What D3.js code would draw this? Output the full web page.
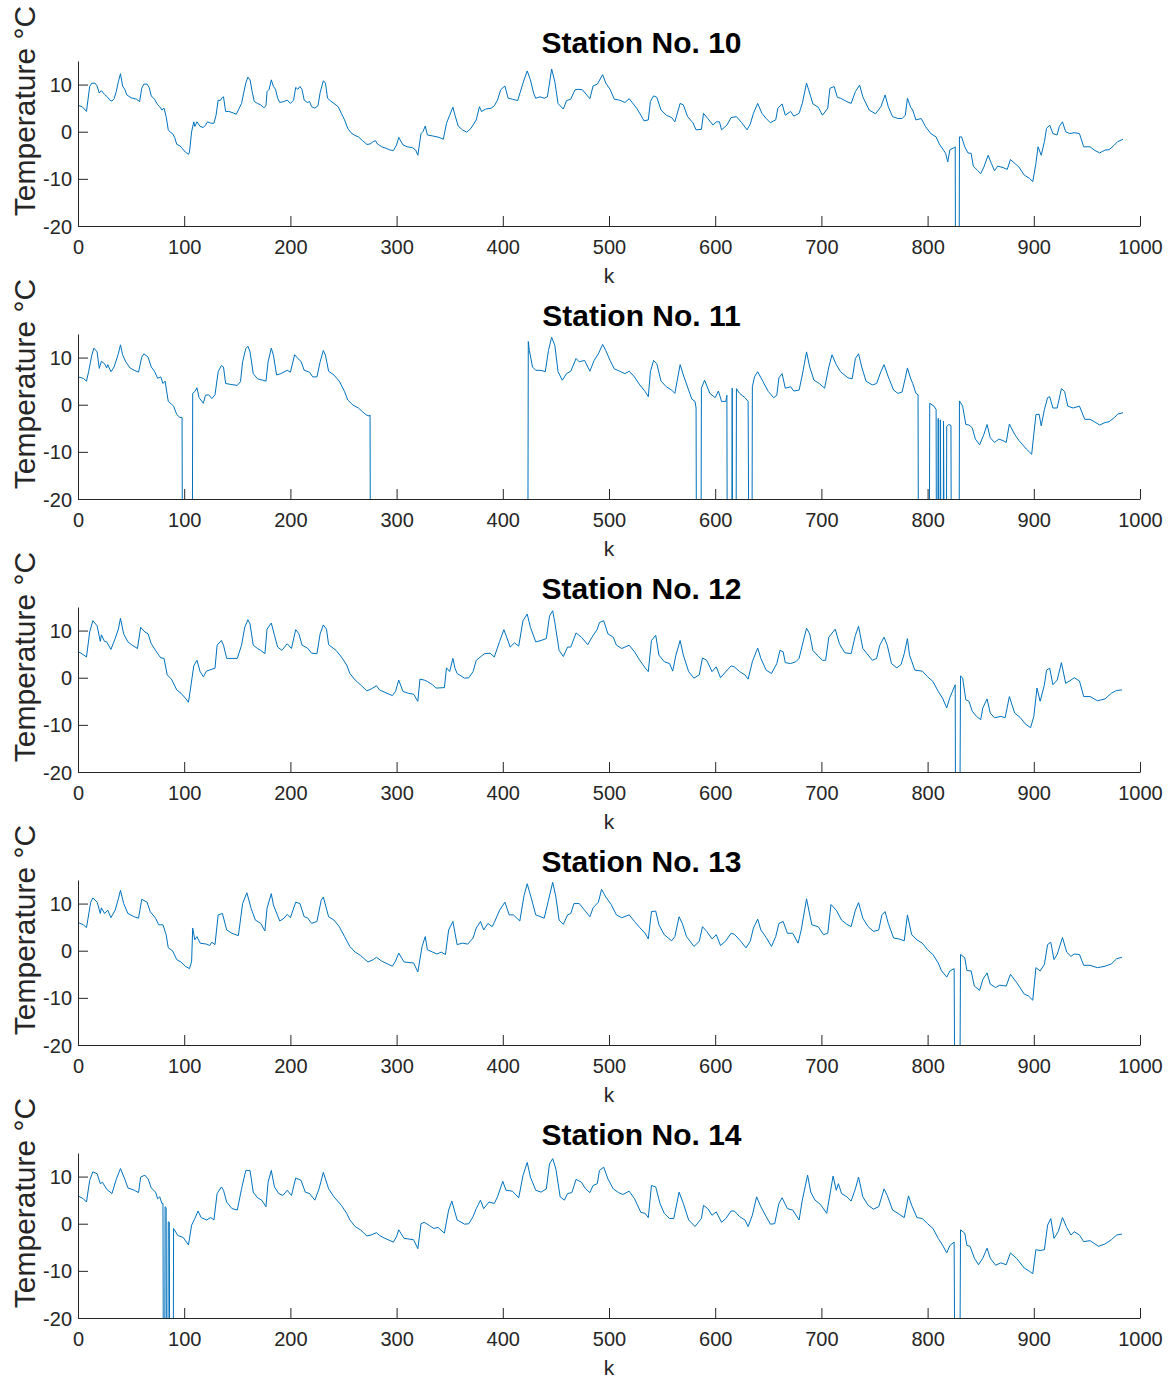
<!DOCTYPE html>
<html>
<head>
<meta charset="utf-8">
<script src="https://cdn.jsdelivr.net/npm/d3@7"></script>
<style>
  body { margin: 0; background: #fff; }
  svg { display: block; }
</style>
</head>
<body>
<svg id="chart" width="1171" height="1378"></svg>
<script>
// Axis ticks shared by all panels
const xTicks = [0, 100, 200, 300, 400, 500, 600, 700, 800, 900, 1000];
const yTicks = [-20, -10, 0, 10];
const stationNames = ["Station No. 10", "Station No. 11", "Station No. 12", "Station No. 13", "Station No. 14"];

// Temperature readings [k, °C]; -100 marks a sensor dropout
const station10 = [[0,5.6],[4,5.3],[8,4.3],[11,9.6],[13,10.3],[16,10.3],[18,9.7],[20,8.2],[22,8.7],[25,7.9],[28,7.3],[30,6.7],[32,6.5],[34,7.0],[36,8.5],[38,10.6],[40,12.3],[42,9.7],[44,9.0],[46,7.8],[50,7.2],[55,6.9],[58,6.4],[60,9.2],[62,10.1],[65,10.1],[67,9.4],[69,7.6],[72,6.9],[75,5.7],[77,5.3],[79,4.6],[81,5.0],[83,3.2],[85,0.4],[87,-0.1],[89,-0.4],[91,-1.2],[93,-2.7],[96,-3.0],[98,-3.5],[101,-4.3],[104,-4.8],[105,-4.3],[107,0],[109,2.1],[110,1.1],[112,2.1],[115,1.1],[118,0.9],[120,1.4],[122,2.1],[125,1.8],[128,1.8],[130,3.5],[132,6.7],[134,6.6],[136,7.3],[137,7.4],[139,4.3],[142,4.3],[146,4.0],[149,3.7],[151,4.6],[154,6.0],[156,8.2],[158,10.3],[160,11.6],[162,11.0],[164,8.5],[166,6.4],[169,6.0],[172,5.7],[175,5.1],[177,5.5],[178,8.5],[180,9.0],[182,11.0],[184,9.6],[186,9.0],[188,7.1],[190,6.2],[194,6.4],[197,6.7],[200,6.0],[203,6.7],[205,9.4],[207,9.0],[209,9.6],[211,8.9],[213,6.7],[216,6.2],[218,6.4],[220,5.3],[223,5.0],[226,5.5],[228,8.3],[231,10.8],[233,10.3],[235,7.1],[238,6.5],[241,6.0],[245,5.3],[248,3.9],[251,2.5],[254,0.7],[257,-0.2],[260,-0.7],[264,-1.1],[268,-1.9],[272,-2.7],[275,-2.6],[278,-2.1],[280,-1.9],[282,-2.6],[286,-3.2],[290,-3.5],[294,-3.9],[297,-4.0],[300,-2.8],[302,-1.2],[306,-2.8],[310,-3.2],[315,-3.4],[318,-3.9],[320,-5.0],[323,-0.4],[325,0.1],[327,1.2],[329,-0.7],[334,-0.9],[340,-1.2],[344,-1.6],[347,1.8],[350,3.5],[353,5.2],[355,3.5],[358,1.2],[362,0.4],[366,-0.1],[370,0.7],[375,2.5],[378,5.3],[380,4.3],[384,4.8],[389,5.0],[392,5.5],[395,6.7],[398,8.9],[402,9.7],[405,7.1],[409,6.9],[414,6.6],[419,10.3],[423,12.9],[426,11.0],[429,8.2],[431,7.1],[435,7.4],[439,7.1],[442,7.4],[446,13.3],[449,10.6],[452,6.0],[457,4.8],[460,6.6],[464,6.9],[468,8.9],[471,9.0],[475,8.9],[479,7.8],[482,7.0],[485,9.7],[489,10.1],[494,12.1],[497,10.3],[501,9.0],[505,6.9],[510,6.7],[515,6.2],[519,7.0],[526,5.0],[530,3.5],[533,2.3],[537,2.5],[539,6.4],[542,7.6],[545,7.3],[549,4.6],[554,3.5],[559,3.0],[562,2.1],[567,6.0],[570,5.7],[574,3.2],[579,1.9],[582,0.4],[587,0.5],[589,3.9],[593,2.8],[598,1.4],[601,2.1],[604,2.1],[606,0.4],[611,1.4],[615,3.0],[620,3.2],[625,1.9],[630,0.4],[633,1.6],[636,3.9],[640,6.0],[644,3.9],[648,2.8],[652,1.9],[655,2.3],[657,2.5],[659,5.0],[663,5.9],[666,3.5],[671,4.3],[674,3.3],[679,3.9],[682,6.0],[686,10.3],[688,8.9],[692,5.9],[697,5.2],[701,3.5],[706,5.0],[708,9.2],[712,9.6],[715,7.3],[718,7.1],[723,6.5],[728,6.0],[732,8.5],[736,9.9],[739,7.4],[745,4.6],[751,3.8],[756,5.3],[760,7.8],[763,5.3],[767,3.2],[772,2.8],[776,2.8],[779,3.5],[781,7.1],[784,5.2],[786,4.6],[789,2.5],[794,2.8],[798,1.1],[803,-0.4],[808,-1.1],[811,-2.6],[815,-3.9],[817,-4.6],[819,-6.4],[821,-3.8],[824,-3.5],[826,-3.2],[827,-100],[829,-100],[830,-1.1],[832,-1.1],[835,-3.2],[838,-4.5],[841,-4.6],[843,-7.3],[847,-8.2],[850,-8.9],[853,-7.5],[857,-5.0],[860,-6.7],[863,-8.3],[866,-7.3],[871,-7.6],[875,-8.0],[878,-5.9],[882,-6.7],[886,-7.5],[891,-9.2],[896,-9.9],[899,-10.6],[902,-6.7],[904,-3.2],[907,-5.0],[910,-2.1],[912,0.7],[915,1.4],[918,-0.4],[922,-0.7],[924,1.1],[927,2.1],[930,0],[934,-0.4],[938,-0.2],[943,-0.4],[947,-3.2],[953,-3.2],[957,-3.9],[962,-4.5],[967,-3.9],[971,-3.8],[976,-2.8],[979,-2.1],[984,-1.6]];

const station11 = [[0,5.9],[5,5.6],[8,5.0],[10,7.0],[13,10.5],[15,12.0],[18,11.2],[20,7.7],[22,9.2],[25,8.7],[27,7.8],[28,8.5],[31,7.0],[34,8.0],[38,10.8],[40,12.7],[42,10.6],[45,9.1],[49,7.8],[53,7.3],[57,6.9],[60,10.1],[62,10.8],[66,10.1],[69,8.0],[72,7.1],[75,5.6],[78,5.9],[80,4.5],[82,5.0],[85,0.7],[88,0.1],[90,-0.3],[93,-2.1],[96,-2.7],[98,-2.7],[99,-100],[107,-100],[108,2.4],[110,2.8],[112,3.6],[114,1.5],[118,0.3],[120,2.0],[123,2.1],[126,1.3],[129,2.1],[132,7.0],[135,8.3],[137,8.0],[139,4.5],[144,4.3],[150,4.1],[153,4.9],[155,9.1],[158,11.9],[160,12.4],[162,11.2],[165,6.6],[169,5.5],[174,5.2],[177,5.0],[179,9.1],[182,12.0],[184,10.5],[187,6.3],[191,6.6],[197,7.3],[200,6.9],[204,10.6],[207,9.8],[210,9.2],[213,7.3],[218,6.9],[221,5.9],[225,5.9],[228,9.1],[231,11.5],[233,10.5],[236,7.1],[241,6.3],[246,5.0],[251,2.8],[254,1.0],[259,-0.1],[264,-0.7],[268,-1.5],[271,-2.1],[274,-2.4],[275,-2.2],[276,-100],[423,-100],[424,13.4],[425,11.5],[428,8.0],[431,7.3],[436,7.3],[440,7.0],[443,11.5],[446,14.3],[449,12.6],[452,7.0],[456,5.2],[460,6.6],[464,7.1],[469,9.8],[472,9.1],[477,9.4],[482,7.1],[486,9.4],[490,10.8],[494,12.8],[497,11.5],[501,9.4],[505,7.6],[510,7.1],[515,6.6],[519,7.1],[524,5.9],[529,4.2],[534,2.8],[537,1.7],[539,7.0],[542,9.4],[545,8.7],[549,5.0],[554,3.8],[559,3.1],[562,2.4],[567,8.5],[570,6.3],[575,3.1],[578,1.2],[581,0.7],[582,-0.7],[583,-100],[586,-100],[587,3.5],[590,5.2],[595,2.4],[600,1.5],[603,2.9],[606,0.7],[610,0.7],[611,2.0],[612,-100],[615,-100],[616,3.5],[617,-100],[619,-100],[620,3.4],[623,2.4],[628,1.5],[631,0.7],[633,-100],[634,-100],[635,3.8],[637,5.9],[640,7.0],[645,4.9],[650,2.8],[655,1.5],[658,2.0],[660,5.7],[663,6.6],[666,3.5],[671,3.8],[674,2.9],[679,3.1],[682,6.3],[686,11.2],[689,8.0],[693,5.2],[698,4.5],[703,3.5],[707,8.0],[710,10.6],[714,8.5],[718,7.0],[725,5.7],[729,5.5],[732,9.8],[735,10.8],[738,8.0],[742,5.0],[748,4.2],[752,4.5],[756,7.0],[759,8.5],[763,5.9],[768,3.1],[772,2.4],[776,2.7],[779,5.7],[781,7.8],[784,5.6],[786,4.5],[789,2.4],[791,2.1],[792,-100],[801,-100],[802,0.3],[806,-0.3],[808,-1.0],[809,-100],[810,-2.9],[811,-100],[812,-3.2],[814,-100],[815,-3.5],[817,-100],[818,-4.6],[820,-4.2],[822,-4.4],[823,-100],[829,-100],[830,0.8],[833,-0.3],[836,-4.2],[839,-4.3],[842,-4.9],[845,-7.3],[849,-8.5],[853,-6.3],[856,-4.2],[859,-7.0],[863,-8.0],[867,-7.3],[871,-7.6],[874,-8.0],[877,-4.1],[882,-6.3],[886,-7.6],[893,-9.4],[898,-10.5],[902,-2.1],[905,-2.0],[907,-4.5],[910,-1.0],[913,1.5],[915,1.7],[918,-0.7],[922,-0.7],[926,3.4],[929,2.8],[932,-0.3],[937,-0.7],[943,-0.3],[948,-3.1],[953,-3.1],[957,-3.6],[962,-4.3],[967,-3.8],[971,-3.6],[976,-2.7],[979,-2.0],[984,-1.7]];

const station12 = [[0,5.5],[3,5.2],[8,4.4],[11,9.7],[14,12.1],[18,11.0],[21,7.7],[22,9.1],[25,7.7],[27,7.6],[31,6.0],[35,8.3],[38,10.3],[40,12.6],[43,9.3],[47,7.6],[51,6.9],[56,6.2],[59,10.7],[63,9.7],[66,9.3],[69,7.2],[73,5.8],[76,4.8],[78,4.2],[81,4.1],[84,0.6],[88,-0.3],[93,-2.6],[97,-3.3],[101,-4.3],[104,-5.2],[106,-2.2],[109,2.5],[112,3.7],[115,1.3],[118,0.2],[121,1.4],[126,1.8],[129,2.0],[131,6.9],[135,7.9],[137,6.9],[140,4.1],[145,4.1],[150,4.1],[154,6.9],[157,10.7],[160,12.3],[162,11.4],[165,6.9],[169,6.2],[172,5.8],[176,5.1],[178,10.3],[182,11.6],[185,9.0],[188,6.5],[192,5.8],[197,7.2],[201,6.2],[205,10.2],[208,9.3],[211,6.9],[216,6.3],[220,5.2],[225,5.1],[228,9.3],[231,11.2],[234,10.3],[236,7.0],[243,5.8],[248,4.4],[253,2.7],[256,0.9],[261,-0.5],[266,-1.5],[272,-2.8],[276,-2.4],[281,-1.7],[284,-2.6],[289,-3.1],[296,-3.8],[299,-2.9],[302,-0.5],[306,-2.9],[311,-3.3],[316,-3.5],[320,-5.0],[322,-0.3],[326,-0.5],[329,-0.8],[334,-1.5],[337,-2.2],[345,-2.1],[347,2.1],[350,1.3],[353,4.1],[355,2.0],[357,0.9],[364,-0.1],[368,0],[372,1.3],[375,3.7],[380,4.6],[383,5.1],[388,5.2],[392,4.4],[397,7.7],[401,10.2],[403,9.0],[407,6.5],[411,7.4],[415,6.7],[419,12.1],[423,13.5],[426,10.7],[431,7.6],[436,7.9],[441,8.3],[444,13.1],[447,14.2],[449,11.7],[453,5.8],[457,4.5],[461,6.5],[464,6.5],[469,9.5],[474,8.6],[480,7.0],[484,8.6],[489,10.3],[491,11.7],[495,12.1],[499,9.3],[504,8.6],[507,6.9],[512,6.2],[519,6.9],[524,5.5],[529,3.7],[534,2.1],[537,1.3],[540,7.9],[544,9.0],[547,4.8],[552,3.4],[557,3.0],[560,1.4],[563,4.8],[567,7.9],[570,4.8],[575,1.3],[580,-0.1],[585,0.6],[588,4.2],[592,3.7],[597,1.3],[601,2.3],[605,0],[610,1.3],[615,2.5],[618,2.3],[623,1.3],[628,0.6],[631,-0.3],[635,3.4],[640,6.3],[643,4.1],[648,1.6],[653,0.9],[658,3.0],[661,5.8],[664,5.5],[666,3.2],[671,3.0],[676,3.4],[679,4.1],[682,6.9],[686,10.5],[689,9.3],[692,5.8],[696,4.8],[701,3.7],[704,3.7],[707,8.6],[713,10.3],[717,7.2],[722,5.3],[728,5.1],[732,9.0],[735,10.9],[739,6.2],[744,4.8],[748,3.7],[752,4.1],[755,6.9],[759,8.6],[762,6.9],[766,3.0],[771,2.1],[775,2.8],[778,5.1],[781,8.3],[783,4.8],[788,1.6],[795,1.4],[800,0.2],[805,-0.8],[810,-2.9],[814,-4.3],[818,-6.4],[821,-4.2],[826,-1.5],[827,-100],[829,-100],[831,0.4],[833,-0.1],[836,-4.7],[839,-5.0],[842,-7.1],[846,-8.2],[850,-8.9],[852,-6.4],[856,-4.5],[859,-7.5],[863,-8.5],[869,-8.2],[873,-8.5],[877,-4.0],[882,-7.5],[887,-8.4],[892,-9.8],[897,-10.6],[900,-8.2],[903,-2.2],[906,-5.0],[910,-1.5],[912,1.6],[915,2.0],[918,-1.5],[922,-0.5],[926,3.2],[930,-1.2],[935,-0.5],[938,0],[943,-0.7],[947,-4.0],[953,-4.0],[960,-4.9],[967,-4.5],[973,-3.3],[978,-2.7],[983,-2.6]];

const station13 = [[0,6.0],[5,5.5],[8,4.9],[12,10.3],[14,11.2],[18,10.3],[21,7.9],[22,9.1],[25,7.9],[28,8.6],[31,7.0],[35,8.6],[38,11.0],[40,12.8],[43,10.0],[47,7.9],[53,7.2],[57,6.9],[60,10.9],[65,10.3],[68,8.3],[73,6.9],[76,5.5],[80,5.5],[83,3.4],[85,0.6],[89,0],[93,-1.9],[97,-2.4],[101,-3.3],[105,-3.8],[107,-2.2],[108,4.8],[110,2.3],[112,3.0],[115,1.6],[121,1.4],[124,1.1],[126,1.8],[129,1.3],[132,7.6],[136,7.9],[140,4.4],[145,3.7],[151,3.2],[155,10.0],[159,12.3],[163,9.0],[167,6.5],[172,5.8],[176,4.2],[178,9.0],[182,12.1],[184,9.7],[190,6.3],[194,6.9],[197,7.7],[200,7.0],[205,10.3],[209,10.0],[213,7.2],[216,7.0],[220,5.8],[225,6.2],[229,10.7],[231,11.4],[236,7.2],[241,6.5],[246,5.1],[251,3.0],[256,0.9],[261,-0.3],[266,-1.0],[273,-2.4],[278,-1.9],[281,-1.4],[286,-2.2],[296,-3.3],[299,-2.2],[302,-0.5],[307,-2.4],[316,-2.6],[320,-4.5],[324,0.9],[327,3.0],[329,0.2],[334,-0.3],[338,-0.7],[342,-0.3],[346,-0.8],[349,4.4],[353,6.2],[357,1.3],[362,1.6],[367,1.4],[372,2.7],[375,4.8],[379,6.2],[382,4.4],[386,5.8],[390,5.1],[392,6.0],[397,8.6],[402,10.3],[406,7.6],[410,7.6],[416,6.3],[420,11.7],[423,14.2],[427,11.0],[431,7.6],[439,6.9],[443,10.7],[447,14.5],[450,11.4],[453,6.5],[457,5.6],[461,7.6],[464,7.9],[467,10.0],[472,10.0],[477,8.6],[482,7.2],[485,9.1],[490,10.3],[493,13.0],[497,11.4],[502,9.8],[507,7.6],[512,7.0],[519,7.6],[524,6.2],[529,4.9],[534,3.7],[537,2.5],[540,8.3],[544,8.4],[547,5.5],[552,3.4],[559,2.1],[562,3.0],[566,7.2],[569,5.8],[573,3.0],[580,0.9],[585,2.0],[588,5.1],[592,4.1],[597,2.5],[601,3.4],[605,1.1],[610,2.1],[615,3.7],[618,3.5],[623,2.3],[629,0.6],[633,2.0],[636,4.8],[640,6.7],[643,4.4],[648,2.8],[653,0.9],[657,3.0],[660,5.8],[664,6.2],[668,3.7],[673,3.7],[678,1.6],[681,4.4],[686,11.0],[691,5.5],[697,5.1],[702,3.4],[706,3.7],[709,9.8],[714,8.6],[719,6.5],[724,5.6],[728,5.1],[732,8.6],[735,10.2],[739,6.9],[744,5.1],[749,4.1],[754,4.4],[757,7.6],[760,8.3],[763,5.8],[768,2.7],[773,2.5],[778,2.1],[781,7.6],[785,3.4],[790,2.3],[795,1.6],[800,0.2],[805,-0.8],[810,-2.6],[813,-4.2],[818,-5.6],[821,-4.3],[825,-3.8],[827,-100],[829,-100],[831,-0.8],[835,-1.5],[837,-4.2],[841,-4.3],[844,-7.5],[849,-8.4],[852,-6.1],[856,-4.7],[859,-7.1],[864,-7.8],[868,-7.3],[874,-7.5],[878,-5.0],[884,-6.8],[891,-9.2],[895,-9.6],[899,-10.5],[902,-3.6],[906,-4.3],[910,-2.9],[913,1.3],[916,1.8],[919,-1.9],[922,-0.8],[927,2.8],[931,-0.3],[935,-1.2],[938,-0.7],[943,-0.8],[947,-3.1],[953,-3.1],[960,-3.6],[967,-3.3],[973,-2.8],[978,-1.7],[983,-1.4]];

const station14 = [[0,5.9],[5,5.3],[8,4.6],[11,9.2],[14,11.0],[18,10.6],[21,8.5],[23,8.8],[27,7.3],[32,6.4],[36,9.4],[40,11.7],[44,9.5],[47,7.6],[53,7.1],[57,6.6],[59,9.9],[63,10.3],[66,9.5],[69,7.6],[73,6.7],[75,5.3],[77,5.7],[79,4.3],[80,4.3],[81,-100],[82,3.6],[83,3.4],[84,-100],[85,0.4],[86,0.3],[87,-100],[89,-100],[90,-1.0],[94,-2.5],[99,-2.9],[104,-4.5],[107,-0.3],[110,1.1],[113,2.7],[116,1.3],[121,0.8],[125,1.3],[128,0.8],[131,6.4],[135,7.8],[137,7.1],[140,4.6],[145,3.2],[150,2.9],[154,7.4],[158,11.3],[162,11.3],[165,6.7],[169,5.5],[173,5.0],[177,3.6],[179,8.8],[182,11.3],[185,7.8],[189,6.4],[193,6.0],[197,7.1],[201,6.0],[205,9.7],[210,9.2],[214,6.7],[218,6.4],[223,5.0],[227,7.4],[231,10.9],[236,7.4],[241,5.7],[248,3.9],[253,2.2],[256,0.8],[261,-0.6],[266,-1.3],[272,-2.6],[276,-2.4],[281,-1.9],[284,-2.5],[289,-3.1],[297,-3.9],[300,-2.7],[302,-1.3],[307,-3.1],[316,-3.4],[320,-5.3],[323,0],[326,0.3],[331,-0.4],[335,-1.0],[339,-0.8],[345,-2.0],[349,2.9],[352,4.8],[357,0.8],[364,-0.1],[368,0],[372,1.5],[375,3.2],[379,5.0],[382,3.2],[387,4.6],[392,4.3],[395,5.7],[400,9.0],[403,7.1],[409,6.9],[415,5.5],[419,10.2],[423,13.0],[426,9.9],[431,7.1],[436,6.7],[441,7.4],[444,12.7],[447,13.8],[450,11.6],[454,5.7],[458,5.0],[461,6.4],[465,6.6],[469,9.4],[474,8.8],[478,7.4],[482,6.6],[485,8.1],[489,8.5],[491,11.3],[495,12.0],[499,9.5],[504,7.4],[509,6.6],[513,6.2],[519,6.9],[524,5.3],[530,2.4],[534,2.2],[537,1.3],[540,8.1],[544,7.8],[548,4.3],[552,2.2],[557,1.1],[561,1.1],[566,6.7],[570,4.3],[575,0.8],[581,-0.6],[587,1.1],[589,3.9],[593,3.2],[597,1.8],[601,2.5],[606,0.3],[610,1.1],[615,2.7],[618,2.7],[623,1.5],[628,0.8],[631,-0.6],[635,1.8],[639,5.7],[643,3.6],[648,1.5],[652,-0.1],[656,0],[660,4.3],[663,5.5],[668,3.2],[673,2.9],[679,0.8],[682,5.0],[687,10.3],[690,6.7],[694,5.0],[699,4.1],[705,2.2],[711,10.1],[714,7.1],[716,8.5],[719,6.4],[724,5.7],[728,4.8],[732,7.4],[735,9.9],[739,5.7],[744,3.9],[749,3.1],[754,3.6],[759,7.4],[762,6.0],[767,2.9],[772,2.2],[778,1.3],[782,5.9],[785,3.9],[790,1.3],[795,1.1],[800,0],[805,-1.0],[810,-3.1],[814,-4.5],[818,-6.2],[821,-4.6],[825,-3.9],[827,-100],[829,-100],[831,-1.3],[835,-2.0],[837,-4.6],[840,-4.8],[844,-7.3],[848,-8.7],[852,-7.3],[856,-5.2],[859,-7.3],[864,-8.8],[869,-8.3],[874,-8.7],[878,-6.2],[884,-7.4],[891,-9.4],[896,-10.1],[899,-10.6],[902,-5.5],[906,-5.7],[910,-5.5],[913,-0.3],[916,1.1],[919,-3.1],[923,-1.7],[927,1.3],[931,-0.8],[935,-2.4],[938,-1.7],[943,-2.4],[947,-3.8],[953,-3.6],[961,-4.8],[967,-4.3],[973,-3.4],[978,-2.4],[983,-2.2]];

const stations = [station10, station11, station12, station13, station14];

// ---- layout ----
const plotLeft = 78, plotRight = 1140;
const firstBottom = 226, panelStep = 273, plotHeight = 165;
const axisColor = "#262626";
const lineColor = "#0072BD";
const fontFamily = "'Liberation Sans', Arial, Helvetica, sans-serif";
const tickLen = 10;
const plainNumber = d => String(d);   // "-20", "1000": ASCII minus, no thousands separator

const svg = d3.select("#chart");
const defs = svg.append("defs");
const x = d3.scaleLinear().domain([0, 1000]).range([plotLeft, plotRight]);

stations.forEach((data, i) => {
  const bottom = firstBottom + i * panelStep;
  const top = bottom - plotHeight;
  const y = d3.scaleLinear().domain([-20, 15]).range([bottom, top]);
  const g = svg.append("g");

  const clipId = "clip" + i;
  defs.append("clipPath").attr("id", clipId)
    .append("rect").attr("x", plotLeft).attr("y", top - 2)
    .attr("width", plotRight - plotLeft + 1).attr("height", bottom - top + 2);

  // temperature trace
  const line = d3.line().x(d => x(d[0])).y(d => y(d[1]));
  g.append("path")
    .datum(data)
    .attr("clip-path", `url(#${clipId})`)
    .attr("fill", "none")
    .attr("stroke", lineColor)
    .attr("stroke-width", 1)
    .attr("stroke-linejoin", "round")
    .attr("d", line);

  // x axis (ticks pointing into the plot)
  const xAxis = d3.axisBottom(x).tickValues(xTicks).tickFormat(plainNumber)
    .tickSizeInner(-tickLen).tickSizeOuter(0).tickPadding(0);
  const gx = g.append("g").attr("transform", `translate(0,${bottom})`).call(xAxis);
  gx.select(".domain").attr("stroke", axisColor).attr("stroke-width", 1);
  gx.selectAll(".tick line").attr("stroke", axisColor);
  gx.selectAll(".tick text")
    .attr("y", 28).attr("dy", null)
    .attr("fill", axisColor)
    .style("font-family", fontFamily).style("font-size", "20px");

  // y axis
  const yAxis = d3.axisLeft(y).tickValues(yTicks).tickFormat(plainNumber)
    .tickSizeInner(-tickLen).tickSizeOuter(0).tickPadding(0);
  const gy = g.append("g").attr("transform", `translate(${plotLeft},0)`).call(yAxis);
  gy.select(".domain").attr("stroke", axisColor).attr("stroke-width", 1);
  gy.selectAll(".tick line").attr("stroke", axisColor);
  gy.selectAll(".tick text")
    .attr("x", -6).attr("dy", "0.35em")
    .attr("fill", axisColor)
    .style("font-family", fontFamily).style("font-size", "20px");

  // x label
  g.append("text")
    .attr("x", (plotLeft + plotRight) / 2).attr("y", bottom + 57)
    .attr("text-anchor", "middle")
    .attr("fill", axisColor)
    .style("font-family", fontFamily).style("font-size", "21px")
    .text("k");

  // y label
  g.append("text")
    .attr("transform", `translate(34.5,${bottom - 115}) rotate(-90)`)
    .attr("text-anchor", "middle")
    .attr("fill", axisColor)
    .style("font-family", fontFamily).style("font-size", "30px")
    .text("Temperature °C");

  // title
  g.append("text")
    .attr("x", 641.5).attr("y", top - 8)
    .attr("text-anchor", "middle")
    .attr("fill", "#000")
    .style("font-family", fontFamily).style("font-size", "30px").style("font-weight", "bold")
    .text(stationNames[i]);
});
</script>
</body>
</html>
